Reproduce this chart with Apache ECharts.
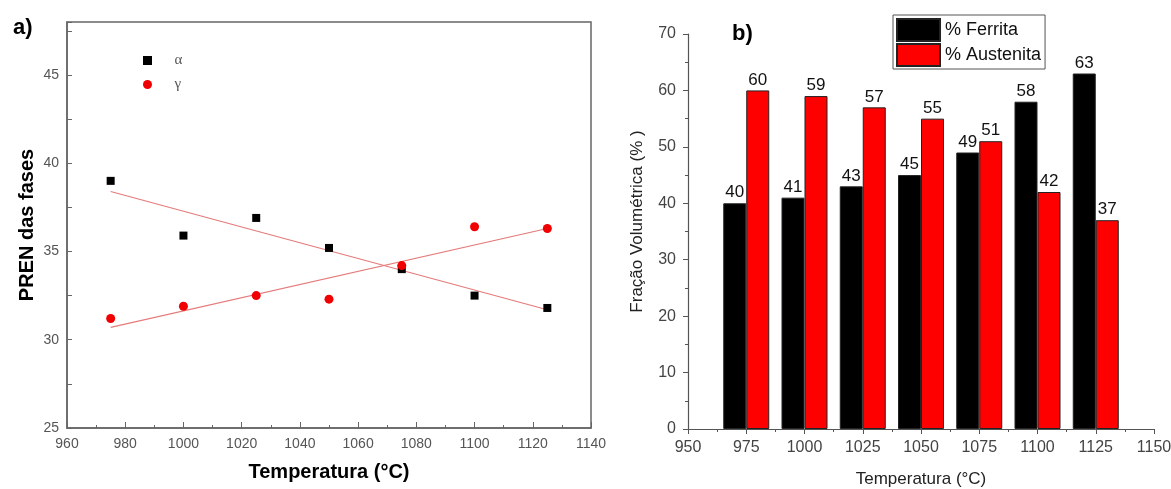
<!DOCTYPE html>
<html>
<head>
<meta charset="utf-8">
<script src="https://cdn.jsdelivr.net/npm/echarts@6/dist/echarts.min.js"></script>
<style>html,body{margin:0;padding:0;background:#fff;}#c{width:1171px;height:489px;}</style>
</head>
<body>
<div id="c"></div>
<script>
// ---- Chart a) PREN das fases ----
const tempsA = [975, 1000, 1025, 1050, 1075, 1100, 1125];
const prenAlpha = [39.0, 35.9, 36.9, 35.2, 34.0, 32.5, 31.8];
const prenGamma = [31.2, 31.9, 32.5, 32.3, 34.2, 36.4, 36.3];
const fitTemps = [975, 1125];
const fitAlpha = [38.4, 31.7];
const fitGamma = [30.7, 36.3];
const namesA = ['α', 'γ'];

// ---- Chart b) Fração volumétrica ----
const tempsB = [975, 1000, 1025, 1050, 1075, 1100, 1125];
const ferrita = [40, 41, 43, 45, 49, 58, 63];
const austenita = [60, 59, 57, 55, 51, 42, 37];
const namesB = ['% Ferrita', '% Austenita'];

const FF = "'Liberation Sans', Arial, sans-serif";
const pair = (xs, ys) => xs.map((x, i) => [x, ys[i]]);
const plain = v => String(v);

const chart = echarts.init(document.getElementById('c'), null, {renderer: 'canvas'});
chart.setOption({
  animation: false,
  textStyle: {fontFamily: FF},
  title: [
    {text: 'a)', left: 8, top: 12, textStyle: {fontSize: 22, fontWeight: 'bold', color: '#000', fontFamily: FF}},
    {text: 'b)', left: 727, top: 18, textStyle: {fontSize: 22, fontWeight: 'bold', color: '#000', fontFamily: FF}}
  ],
  legend: [
    {
      data: [
        {name: namesA[0], icon: 'path://M0,0h10v10h-10z'},
        {name: namesA[1], icon: 'circle'}
      ],
      orient: 'vertical', left: 138, top: 48,
      itemWidth: 44, itemHeight: 9, itemGap: 9,
      textStyle: {fontFamily: "'Liberation Serif', 'DejaVu Serif', serif", fontSize: 15, color: '#555'}
    },
    {
      data: namesB,
      orient: 'vertical', left: 893, top: 15,
      icon: 'rect', itemWidth: 43, itemHeight: 22, itemGap: 1,
      padding: [3, 4, 2, 3],
      borderColor: '#555', borderWidth: 1,
      textStyle: {fontSize: 18, color: '#111', fontFamily: FF}
    }
  ],
  grid: [
    {left: 67, right: 580, top: 22, bottom: 61, outerBoundsMode: 'none', show: true, borderColor: '#666', borderWidth: 1.5, backgroundColor: '#fff'},
    {left: 688, right: 17, top: 34, bottom: 60, outerBoundsMode: 'none'}
  ],
  xAxis: [
    {
      gridIndex: 0, type: 'value', min: 960, max: 1140, interval: 20,
      name: 'Temperatura (°C)', nameLocation: 'middle', nameGap: 34,
      nameTextStyle: {fontSize: 20, fontWeight: 'bold', color: '#000', fontFamily: FF},
      axisLine: {show: true, lineStyle: {color: '#666', width: 1.5}},
      axisTick: {show: true, inside: true, length: 6, lineStyle: {color: '#666'}},
      minorTick: {show: true, splitNumber: 2, length: 3, lineStyle: {color: '#666'}},
      axisLabel: {fontSize: 14, color: '#555', margin: 9, formatter: plain},
      splitLine: {show: false}
    },
    {
      gridIndex: 1, type: 'value', min: 950, max: 1150, interval: 25,
      name: 'Temperatura (°C)', nameLocation: 'middle', nameGap: 42,
      nameTextStyle: {fontSize: 17, color: '#222', fontFamily: FF},
      axisLine: {show: true, onZero: false, lineStyle: {color: '#555', width: 1.2}},
      axisTick: {show: true, inside: false, length: 5, lineStyle: {color: '#555'}},
      minorTick: {show: true, splitNumber: 2, length: 3, lineStyle: {color: '#555'}},
      axisLabel: {fontSize: 16, color: '#444', margin: 11, formatter: plain},
      splitLine: {show: false}
    }
  ],
  yAxis: [
    {
      gridIndex: 0, type: 'value', min: 25, max: 48, interval: 2.5,
      name: 'PREN das fases', nameLocation: 'middle', nameGap: 30,
      nameTextStyle: {fontSize: 20, fontWeight: 'bold', color: '#000', fontFamily: FF},
      axisLine: {show: true, lineStyle: {color: '#666', width: 1.5}},
      axisTick: {show: true, inside: true, length: 5, lineStyle: {color: '#666'}},
      axisLabel: {fontSize: 14, color: '#555', margin: 8,
        formatter: v => (Math.abs(v % 5) < 1e-9 ? String(v) : '')},
      splitLine: {show: false}
    },
    {
      gridIndex: 1, type: 'value', min: 0, max: 70, interval: 10,
      name: 'Fração Volumétrica (% )', nameLocation: 'middle', nameGap: 42,
      nameTextStyle: {fontSize: 17, color: '#222', fontFamily: FF, padding: [0, 0, 0, 20]},
      axisLine: {show: true, lineStyle: {color: '#555', width: 1.2}},
      axisTick: {show: true, inside: false, length: 5, lineStyle: {color: '#555'}},
      minorTick: {show: true, splitNumber: 2, length: 3, lineStyle: {color: '#555'}},
      axisLabel: {fontSize: 16, color: '#444', margin: 12},
      splitLine: {show: false}
    }
  ],
  series: [
    {
      type: 'line', xAxisIndex: 0, yAxisIndex: 0, data: pair(fitTemps, fitAlpha),
      showSymbol: false, silent: true, lineStyle: {color: '#e57b7b', width: 1.2}, z: 2
    },
    {
      type: 'line', xAxisIndex: 0, yAxisIndex: 0, data: pair(fitTemps, fitGamma),
      showSymbol: false, silent: true, lineStyle: {color: '#e57b7b', width: 1.2}, z: 2
    },
    {
      name: namesA[0], type: 'scatter', xAxisIndex: 0, yAxisIndex: 0,
      data: pair(tempsA, prenAlpha), symbol: 'rect', symbolSize: 8,
      itemStyle: {color: '#000', opacity: 1}, z: 3
    },
    {
      name: namesA[1], type: 'scatter', xAxisIndex: 0, yAxisIndex: 0,
      data: pair(tempsA, prenGamma), symbol: 'circle', symbolSize: 9,
      itemStyle: {color: '#f00000', opacity: 1}, z: 3
    },
    {
      name: namesB[0], type: 'bar', xAxisIndex: 1, yAxisIndex: 1,
      data: pair(tempsB, ferrita), barWidth: 23, barGap: '0%',
      itemStyle: {color: '#000', borderColor: '#222', borderWidth: 1},
      label: {show: true, position: 'top', distance: 2, fontSize: 17, color: '#111', fontFamily: FF}
    },
    {
      name: namesB[1], type: 'bar', xAxisIndex: 1, yAxisIndex: 1,
      data: pair(tempsB, austenita), barWidth: 23, barGap: '0%',
      itemStyle: {color: '#ff0000', borderColor: '#222', borderWidth: 1},
      label: {show: true, position: 'top', distance: 2, fontSize: 17, color: '#111', fontFamily: FF}
    }
  ]
});
</script>
</body>
</html>
